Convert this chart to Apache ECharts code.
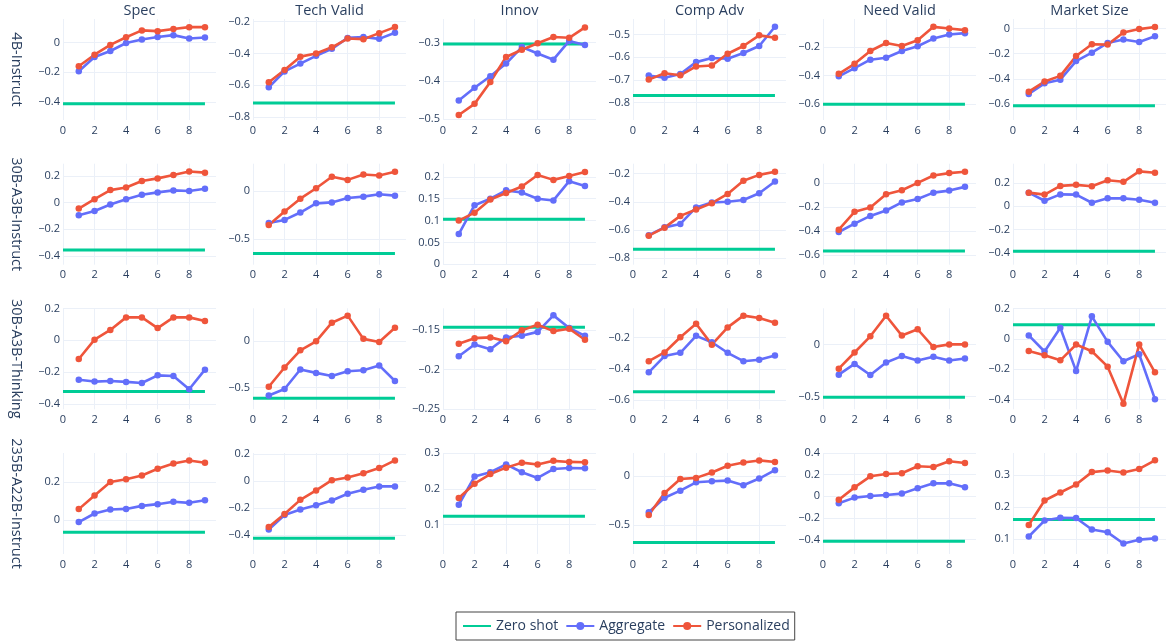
<!DOCTYPE html>
<html>
<head>
<meta charset="utf-8">
<script src="https://cdn.jsdelivr.net/npm/echarts@6/dist/echarts.min.js"></script>
<style>
html,body{margin:0;padding:0;background:#fff;}
#chart{width:1167px;height:644px;}
</style>
</head>
<body>
<div id="chart"></div>
<script>
// ---------------- DATA ----------------
const models = ['4B-Instruct', '30B-A3B-Instruct', '30B-A3B-Thinking', '235B-A22B-Instruct'];
const metrics = ['Spec', 'Tech Valid', 'Innov', 'Comp Adv', 'Need Valid', 'Market Size'];
const steps = [1, 2, 3, 4, 5, 6, 7, 8, 9];
const zeroShotX = [0, 9];
const xTicks = [0, 2, 4, 6, 8];

// 4B-Instruct (one row per metric)
const zeroShot4B = [-0.414, -0.712, -0.304, -0.769, -0.600, -0.613];
const aggregate4B = [
  [-0.194, -0.098, -0.057, -0.003, 0.020, 0.038, 0.050, 0.027, 0.034],
  [-0.613, -0.513, -0.464, -0.415, -0.371, -0.302, -0.296, -0.308, -0.270],
  [-0.451, -0.418, -0.388, -0.355, -0.312, -0.329, -0.345, -0.296, -0.307],
  [-0.681, -0.691, -0.674, -0.622, -0.604, -0.607, -0.582, -0.551, -0.466],
  [-0.405, -0.348, -0.289, -0.275, -0.228, -0.195, -0.141, -0.113, -0.103],
  [-0.520, -0.435, -0.406, -0.259, -0.192, -0.115, -0.088, -0.107, -0.062]
];
const personalized4B = [
  [-0.160, -0.082, -0.016, 0.036, 0.082, 0.077, 0.091, 0.104, 0.104],
  [-0.581, -0.504, -0.420, -0.400, -0.361, -0.306, -0.310, -0.272, -0.234],
  [-0.489, -0.460, -0.403, -0.338, -0.319, -0.302, -0.286, -0.288, -0.261],
  [-0.699, -0.671, -0.680, -0.641, -0.637, -0.585, -0.551, -0.504, -0.515],
  [-0.388, -0.318, -0.228, -0.172, -0.193, -0.153, -0.059, -0.071, -0.082],
  [-0.501, -0.421, -0.376, -0.219, -0.125, -0.128, -0.032, -0.005, 0.011]
];

// 30B-A3B-Instruct
const zeroShot30I = [-0.355, -0.650, 0.103, -0.736, -0.564, -0.388];
const aggregate30I = [
  [-0.096, -0.063, -0.015, 0.025, 0.058, 0.076, 0.091, 0.086, 0.103],
  [-0.332, -0.301, -0.224, -0.129, -0.119, -0.073, -0.059, -0.035, -0.049],
  [0.069, 0.135, 0.150, 0.169, 0.164, 0.150, 0.146, 0.190, 0.179],
  [-0.636, -0.581, -0.557, -0.440, -0.405, -0.400, -0.388, -0.340, -0.257],
  [-0.407, -0.338, -0.274, -0.229, -0.162, -0.134, -0.081, -0.064, -0.033],
  [0.116, 0.046, 0.101, 0.099, 0.029, 0.067, 0.067, 0.055, 0.029]
];
const personalized30I = [
  [-0.045, 0.025, 0.093, 0.113, 0.161, 0.181, 0.207, 0.232, 0.224],
  [-0.353, -0.213, -0.080, 0.028, 0.147, 0.115, 0.171, 0.161, 0.199],
  [0.100, 0.118, 0.148, 0.163, 0.178, 0.204, 0.193, 0.202, 0.211],
  [-0.640, -0.583, -0.500, -0.455, -0.410, -0.345, -0.252, -0.210, -0.188],
  [-0.388, -0.240, -0.204, -0.095, -0.061, 0.000, 0.061, 0.081, 0.092],
  [0.116, 0.099, 0.174, 0.183, 0.171, 0.223, 0.209, 0.299, 0.287]
];

// 30B-A3B-Thinking
const zeroShot30T = [-0.322, -0.616, -0.146, -0.546, -0.506, 0.093];
const aggregate30T = [
  [-0.247, -0.259, -0.255, -0.261, -0.268, -0.220, -0.224, -0.307, -0.184],
  [-0.587, -0.518, -0.308, -0.344, -0.377, -0.326, -0.315, -0.264, -0.431],
  [-0.183, -0.168, -0.174, -0.159, -0.157, -0.152, -0.131, -0.147, -0.157],
  [-0.422, -0.318, -0.297, -0.189, -0.230, -0.297, -0.351, -0.342, -0.314],
  [-0.289, -0.185, -0.292, -0.172, -0.110, -0.153, -0.117, -0.153, -0.133],
  [0.022, -0.084, 0.073, -0.213, 0.148, -0.020, -0.148, -0.102, -0.398]
];
const personalized30T = [
  [-0.117, 0.004, 0.065, 0.144, 0.144, 0.077, 0.144, 0.144, 0.121],
  [-0.493, -0.286, -0.101, -0.004, 0.196, 0.272, 0.022, -0.011, 0.141],
  [-0.167, -0.160, -0.159, -0.164, -0.150, -0.143, -0.151, -0.148, -0.162],
  [-0.351, -0.295, -0.198, -0.112, -0.245, -0.135, -0.060, -0.075, -0.105],
  [-0.231, -0.075, 0.081, 0.279, 0.088, 0.149, -0.023, 0.003, 0.003],
  [-0.080, -0.108, -0.142, -0.038, -0.082, -0.184, -0.429, -0.038, -0.221]
];

// 235B-A22B-Instruct
const zeroShot235 = [-0.065, -0.423, 0.124, -0.679, -0.417, 0.161];
const aggregate235 = [
  [-0.011, 0.034, 0.055, 0.058, 0.074, 0.083, 0.096, 0.090, 0.104],
  [-0.358, -0.250, -0.210, -0.178, -0.143, -0.093, -0.063, -0.038, -0.038],
  [0.156, 0.235, 0.247, 0.269, 0.247, 0.231, 0.256, 0.259, 0.258],
  [-0.369, -0.221, -0.148, -0.062, -0.052, -0.045, -0.093, -0.024, 0.062],
  [-0.065, -0.012, 0.003, 0.012, 0.025, 0.074, 0.120, 0.120, 0.083],
  [0.108, 0.158, 0.167, 0.166, 0.130, 0.121, 0.086, 0.098, 0.102]
];
const personalized235 = [
  [0.057, 0.129, 0.200, 0.214, 0.234, 0.269, 0.297, 0.313, 0.301],
  [-0.340, -0.243, -0.138, -0.068, 0.008, 0.028, 0.060, 0.098, 0.155],
  [0.175, 0.215, 0.242, 0.260, 0.274, 0.269, 0.279, 0.276, 0.275],
  [-0.397, -0.172, -0.028, -0.017, 0.038, 0.107, 0.141, 0.162, 0.145],
  [-0.031, 0.083, 0.185, 0.207, 0.213, 0.278, 0.272, 0.324, 0.309],
  [0.144, 0.221, 0.246, 0.271, 0.310, 0.315, 0.309, 0.320, 0.347]
];

// y tick labels per panel
const yTicks4B = [[-0.4, -0.2, 0], [-0.8, -0.6, -0.4, -0.2], [-0.5, -0.4, -0.3], [-0.8, -0.7, -0.6, -0.5], [-0.6, -0.4, -0.2], [-0.6, -0.4, -0.2, 0]];
const yTicks30I = [[-0.4, -0.2, 0, 0.2], [-0.5, 0], [0, 0.05, 0.1, 0.15, 0.2], [-0.8, -0.6, -0.4, -0.2], [-0.6, -0.4, -0.2, 0], [-0.4, -0.2, 0, 0.2]];
const yTicks30T = [[-0.4, -0.2, 0, 0.2], [-0.5, 0], [-0.25, -0.2, -0.15], [-0.6, -0.4, -0.2], [-0.5, 0], [-0.4, -0.2, 0, 0.2]];
const yTicks235 = [[0, 0.2], [-0.4, -0.2, 0, 0.2], [0.1, 0.2, 0.3], [-0.5, 0], [-0.4, -0.2, 0, 0.2, 0.4], [0.1, 0.2, 0.3]];

// y axis ranges per panel
const yRange4B = [[-0.523, 0.159], [-0.819, -0.183], [-0.502, -0.239], [-0.877, -0.432], [-0.711, -0.004], [-0.726, 0.075]];
const yRange30I = [[-0.466, 0.291], [-0.766, 0.283], [-0.001, 0.23], [-0.845, -0.131], [-0.678, 0.159], [-0.504, 0.365]];
const yRange30T = [[-0.433, 0.201], [-0.736, 0.351], [-0.2505, -0.122], [-0.658, -0.013], [-0.623, 0.351], [-0.465, 0.201]];
const yRange235 = [[-0.179, 0.352], [-0.54, 0.21], [0.018, 0.301], [-0.797, 0.238], [-0.534, 0.401], [0.053, 0.37]];

// ---------------- LAYOUT ----------------
const zeroShotRows = [zeroShot4B, zeroShot30I, zeroShot30T, zeroShot235];
const aggregateRows = [aggregate4B, aggregate30I, aggregate30T, aggregate235];
const personalizedRows = [personalized4B, personalized30I, personalized30T, personalized235];
const yTickRows = [yTicks4B, yTicks30I, yTicks30T, yTicks235];
const yRangeRows = [yRange4B, yRange30I, yRange30T, yRange235];

const colLeft = [63, 253, 443, 633, 823, 1013];
const rowTop = [19, 163.7, 308.3, 453];
const plotW = 153, plotH = 101;
const FONT = '"Open Sans", verdana, arial, sans-serif';
const TXT = '#2a3f5f';
const GRIDC = '#EBF0F8';
const C_ZERO = '#00CC96', C_AGG = '#636EFA', C_PER = '#EF553B';

function fmt(v) {
  const s = String(Math.round(v * 1000) / 1000);
  return s.replace('-', '\u2212');
}

const grids = [], xAxes = [], yAxes = [], series = [], graphics = [];
for (let r = 0; r < 4; r++) {
  for (let c = 0; c < 6; c++) {
    const gi = r * 6 + c;
    grids.push({ left: colLeft[c], top: rowTop[r], width: plotW, height: plotH, containLabel: false, outerBoundsMode: 'none' });
    xAxes.push({
      type: 'value', gridIndex: gi, min: 0, max: 9.7,
      axisLine: { show: false }, axisTick: { show: false, customValues: xTicks },
      axisLabel: { customValues: xTicks, color: TXT, fontSize: 11, fontFamily: FONT, margin: 5, formatter: fmt },
      splitLine: { show: true, lineStyle: { color: GRIDC, width: 1 } }
    });
    const tk = yTickRows[r][c];
    const rg = yRangeRows[r][c];
    yAxes.push({
      type: 'value', gridIndex: gi, min: rg[0], max: rg[1],
      axisLine: { show: false }, axisTick: { show: false, customValues: tk },
      axisLabel: { customValues: tk, color: TXT, fontSize: 11, fontFamily: FONT, margin: 3, formatter: fmt, showMinLabel: true, showMaxLabel: true },
      splitLine: { show: true, lineStyle: { color: GRIDC, width: 1 } }
    });
    const z = zeroShotRows[r][c];
    series.push({
      name: 'Zero shot', type: 'line', xAxisIndex: gi, yAxisIndex: gi,
      data: zeroShotX.map(x => [x, z]), symbol: 'none',
      lineStyle: { color: C_ZERO, width: 3 }, itemStyle: { color: C_ZERO }, silent: true
    });
    const ag = aggregateRows[r][c];
    series.push({
      name: 'Aggregate', type: 'line', xAxisIndex: gi, yAxisIndex: gi,
      data: steps.map((x, k) => [x, ag[k]]), symbol: 'circle', symbolSize: 6.5, showAllSymbol: true,
      lineStyle: { color: C_AGG, width: 2.6 }, itemStyle: { color: C_AGG }
    });
    const pe = personalizedRows[r][c];
    series.push({
      name: 'Personalized', type: 'line', xAxisIndex: gi, yAxisIndex: gi,
      data: steps.map((x, k) => [x, pe[k]]), symbol: 'circle', symbolSize: 6.5, showAllSymbol: true,
      lineStyle: { color: C_PER, width: 2.6 }, itemStyle: { color: C_PER }
    });
  }
}

metrics.forEach((m, c) => {
  graphics.push({
    type: 'text', x: colLeft[c] + plotW / 2, y: 11,
    style: { text: m, align: 'center', verticalAlign: 'middle', fontSize: 14.5, fontFamily: FONT, fill: TXT }
  });
});
models.forEach((m, r) => {
  graphics.push({
    type: 'text', x: 16, y: rowTop[r] + plotH / 2, rotation: -Math.PI / 2,
    style: { text: m, align: 'center', verticalAlign: 'middle', fontSize: 14.5, fontFamily: FONT, fill: TXT }
  });
});

const chart = echarts.init(document.getElementById('chart'), null, { renderer: 'canvas' });
chart.setOption({
  animation: false,
  backgroundColor: '#ffffff',
  grid: grids,
  xAxis: xAxes,
  yAxis: yAxes,
  series: series,
  graphic: graphics,
  legend: {
    data: [
      { name: 'Zero shot', itemStyle: { color: 'rgba(0,0,0,0)', borderWidth: 0 } },
      'Aggregate',
      'Personalized'
    ],
    left: 456, top: 612,
    orient: 'horizontal',
    itemWidth: 28, itemHeight: 10, itemGap: 7,
    padding: [7, 5, 7, 6],
    borderColor: '#444', borderWidth: 1,
    textStyle: { color: TXT, fontSize: 14, fontFamily: FONT }
  }
});
</script>
</body>
</html>
